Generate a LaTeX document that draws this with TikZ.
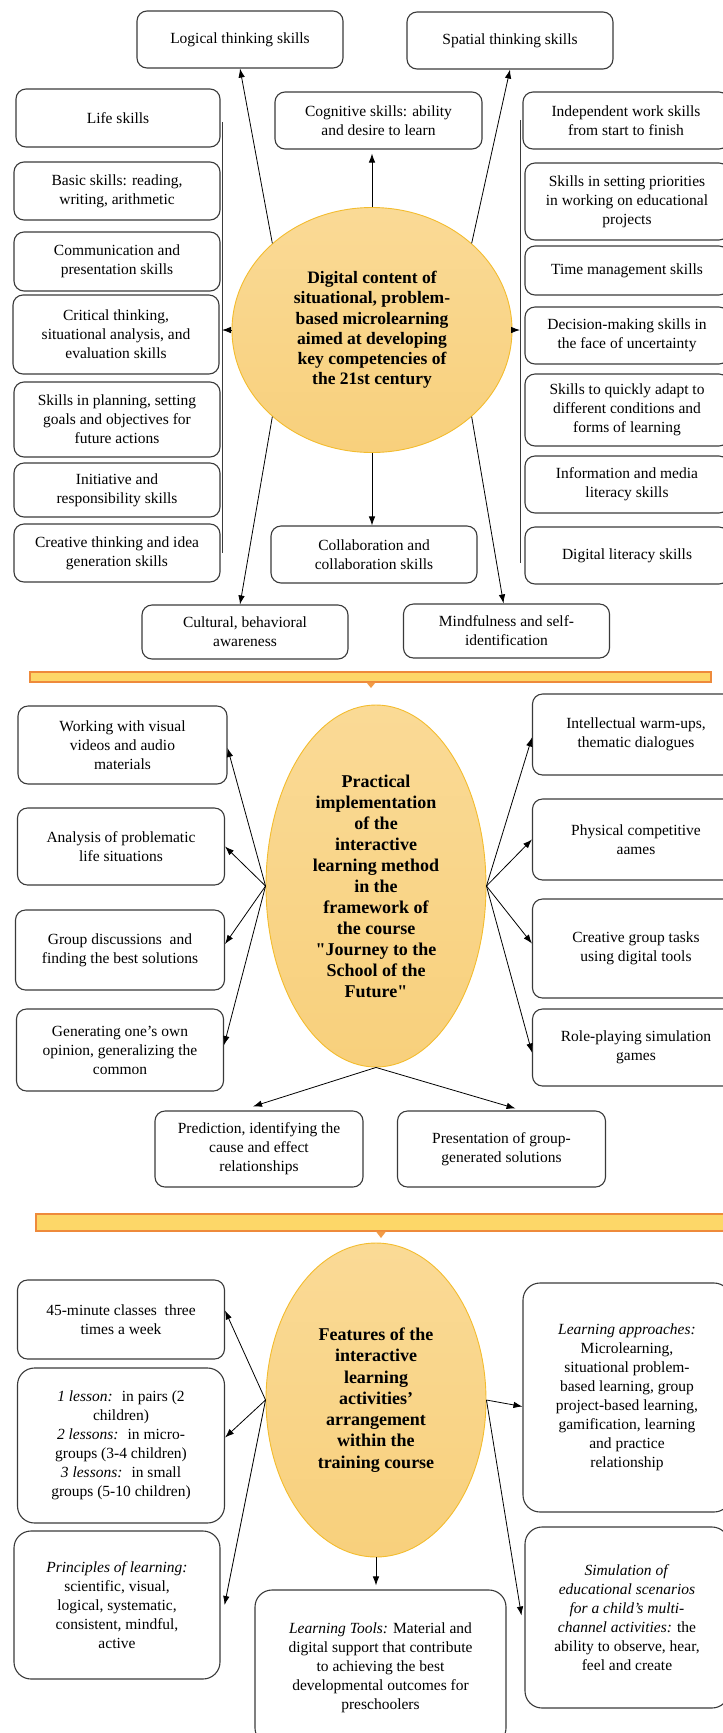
\documentclass[tikz,border=0pt]{standalone}
\usepackage{fontspec}
\setmainfont{Liberation Serif}
\usetikzlibrary{arrows.meta,shapes.geometric}
\definecolor{boxline}{HTML}{3A3A3A}
\definecolor{hubtop}{HTML}{FADA96}
\definecolor{hubbot}{HTML}{F8D07C}
\definecolor{hubline}{HTML}{F3BC2E}
\definecolor{barfill}{HTML}{FDD768}
\definecolor{barline}{HTML}{EE8A3B}
\definecolor{tipfill}{HTML}{F29B45}

\begin{document}
\begin{tikzpicture}[x=1pt, y=-1pt,
	box/.style={draw=boxline, line width=1.1pt, rounded corners=10pt, align=center, inner sep=2pt,
		font=\fontsize{15.5}{19}\selectfont},
	bigbox/.style={box, rounded corners=17pt},
	hub/.style={ellipse, draw=hubline, line width=0.9pt, top color=hubtop, bottom color=hubbot,
		inner sep=0pt, align=center, font=\fontsize{17.5}{20.2}\selectfont\bfseries},
	arr/.style={-{Latex[length=9pt,width=6.5pt]}, line width=0.8pt},
	bar/.style={fill=barfill, draw=barline, line width=1.4pt},
	tip/.style={fill=tipfill}]
	\useasboundingbox (0,0) rectangle (723,1733);

	\node[hub, minimum width=280pt, minimum height=245pt] (dig) at (372,330) {Digital content of\\situational, problem-\\based microlearning\\aimed at developing\\key competencies of\\the 21st century};
	\node[box, minimum width=206pt, minimum height=57pt] (logic) at (240,39.5) {Logical thinking skills};
	\node[box, minimum width=206pt, minimum height=57pt] (spatial) at (510,40.5) {Spatial thinking skills};
	\node[box, minimum width=207pt, minimum height=57pt] (cogn) at (378.5,120.5) {Cognitive skills: ability\\and desire to learn};
	\node[box, minimum width=204pt, minimum height=58pt] (life) at (118,118) {Life skills};
	\node[box, minimum width=206pt, minimum height=58pt] (basic) at (117,191) {Basic skills: reading,\\writing, arithmetic};
	\node[box, minimum width=206pt, minimum height=59pt] (comm) at (117,261.5) {Communication and\\presentation skills};
	\node[box, minimum width=206pt, minimum height=79pt] (crit) at (116,334.5) {Critical thinking,\\situational analysis, and\\evaluation skills};
	\node[box, minimum width=206pt, minimum height=75pt] (plan) at (117,419.5) {Skills in planning, setting\\goals and objectives for\\future actions};
	\node[box, minimum width=206pt, minimum height=54pt] (init) at (117,490) {Initiative and\\responsibility skills};
	\node[box, minimum width=206pt, minimum height=58pt] (creat) at (117,553) {Creative thinking and idea\\generation skills};
	\node[box, minimum width=206pt, minimum height=57pt] (indep) at (626,120.5) {Independent work skills\\from start to finish};
	\node[box, minimum width=204pt, minimum height=77pt] (prior) at (627,201.5) {Skills in setting priorities\\in working on educational\\projects};
	\node[box, minimum width=204pt, minimum height=49pt] (timem) at (627,270.5) {Time management skills};
	\node[box, minimum width=204pt, minimum height=57pt] (decis) at (627,335.5) {Decision-making skills in\\the face of uncertainty};
	\node[box, minimum width=204pt, minimum height=72pt] (adapt) at (627,410) {Skills to quickly adapt to\\different conditions and\\forms of learning};
	\node[box, minimum width=204pt, minimum height=57pt] (info) at (627,484.5) {Information and media\\literacy skills};
	\node[box, minimum width=204pt, minimum height=57pt] (digit) at (627,555.5) {Digital literacy skills};
	\node[box, minimum width=206pt, minimum height=57pt] (collab) at (374,554.5) {Collaboration and\\collaboration skills};
	\node[box, minimum width=206pt, minimum height=54pt] (cult) at (245,632) {Cultural, behavioral\\awareness};
	\node[box, minimum width=206pt, minimum height=54pt] (mind) at (506.5,631) {Mindfulness and self-\\identification};

	\coordinate (lbar) at (222,330);
	\coordinate (rbar) at (520,330);
	\draw[line width=0.9pt, boxline] (222,122) -- (222,553);
	\draw[line width=0.9pt, boxline] (520,120) -- (520,563);
	\draw[arr] (dig.west) -- (lbar);
	\draw[arr] (dig.east) -- (rbar);
	\draw[arr] (dig.139) -- (logic.south);
	\draw[arr] (dig.41) -- (spatial.south);
	\draw[arr] (dig.north) -- ([yshift=-4pt]dig.north |- cogn.south);
	\draw[arr] (dig.south) -- (dig.south |- collab.north);
	\draw[arr] (dig.221) -- ([xshift=-5pt]cult.north);
	\draw[arr] (dig.319) -- ([xshift=-3pt]mind.north);

	\draw[bar] (30,672) rectangle (711,682);
	\fill[tip] (366.5,682.5) -- (375.5,682.5) -- (371,688) -- cycle;

	\node[hub, minimum width=220pt, minimum height=362pt, font=\fontsize{18}{21}\selectfont\bfseries] (prac) at (376,886) {Practical\\implementation\\of the\\interactive\\learning method\\in the\\framework of\\the course\\\textquotedbl Journey to the\\School of the\\Future\textquotedbl};
	\node[box, minimum width=209pt, minimum height=78pt] (work) at (122.5,745) {Working with visual\\videos and audio\\materials};
	\node[box, minimum width=207pt, minimum height=77pt] (anal) at (121,846.5) {Analysis of problematic\\life situations};
	\node[box, minimum width=209pt, minimum height=80pt] (grp) at (120,950) {Group discussions~ and\\finding the best solutions};
	\node[box, minimum width=207pt, minimum height=82pt] (gen) at (120,1050) {Generating one's own\\opinion, generalizing the\\common};
	\node[box, minimum width=207pt, minimum height=81pt] (intel) at (636,734.5) {Intellectual warm-ups,\\thematic dialogues};
	\node[box, minimum width=207pt, minimum height=81pt] (phys) at (636,839.5) {Physical competitive\\aames};
	\node[box, minimum width=207pt, minimum height=99pt] (cgrp) at (636,948.5) {Creative group tasks\\using digital tools};
	\node[box, minimum width=207pt, minimum height=77pt] (role) at (636,1047.5) {Role-playing simulation\\games};
	\node[box, minimum width=208pt, minimum height=76pt] (pred) at (259,1149) {Prediction, identifying the\\cause and effect\\relationships};
	\node[box, minimum width=208pt, minimum height=76pt] (pres) at (501.5,1149) {Presentation of group-\\generated solutions};

	\draw[arr] (prac.west) -- ([yshift=-3pt]work.east);
	\draw[arr] (prac.west) -- (anal.east);
	\draw[arr] (prac.west) -- ([yshift=6pt]grp.east);
	\draw[arr] (prac.west) -- ([yshift=5pt]gen.east);
	\draw[arr] (prac.east) -- ([yshift=-3pt]intel.west);
	\draw[arr] (prac.east) -- (phys.west);
	\draw[arr] (prac.east) -- ([yshift=5pt]cgrp.west);
	\draw[arr] (prac.east) -- ([yshift=-5pt]role.west);
	\draw[arr] (prac.south) -- ([xshift=-6pt,yshift=4pt]pred.north);
	\draw[arr] (prac.south) -- ([xshift=14pt,yshift=2pt]pres.north);

	\draw[bar] (36,1214) rectangle (730,1231);
	\fill[tip] (376,1231.5) -- (386,1231.5) -- (381,1238) -- cycle;

	\node[hub, minimum width=220pt, minimum height=314pt, font=\fontsize{18}{21.3}\selectfont\bfseries] (feat) at (376,1400) {Features of the\\interactive\\learning\\activities'\\arrangement\\within the\\training course};
	\node[box, minimum width=207pt, minimum height=79pt] (mins) at (121,1319.5) {45-minute classes~ three\\times a week};
	\node[bigbox, minimum width=207pt, minimum height=155pt] (less) at (121,1445.5) {\textit{1 lesson:}~ in pairs (2\\children)\\\textit{2 lessons:}~ in micro-\\groups (3-4 children)\\\textit{3 lessons:}~ in small\\groups (5-10 children)};
	\node[bigbox, minimum width=206pt, minimum height=148pt] (princ) at (117,1605) {\textit{Principles of learning:}\\scientific, visual,\\logical, systematic,\\consistent, mindful,\\active};
	\node[bigbox, minimum width=208pt, minimum height=229pt] (appr) at (627,1397.5) {\textit{Learning approaches:}\\Microlearning,\\situational problem-\\based learning, group\\project-based learning,\\gamification, learning\\and practice\\relationship};
	\node[bigbox, minimum width=204pt, minimum height=181pt] (simul) at (627,1617.5) {\textit{Simulation of}\\\textit{educational scenarios}\\\textit{for a child's multi-}\\\textit{channel activities:} the\\ability to observe, hear,\\feel and create};
	\node[bigbox, minimum width=251pt, minimum height=155pt] (tools) at (380.5,1667.5) {\textit{Learning Tools:} Material and\\digital support that contribute\\to achieving the best\\developmental outcomes for\\preschoolers};

	\draw[arr] (feat.west) -- ([yshift=9pt]mins.east);
	\draw[arr] (feat.west) -- ([yshift=8pt]less.east);
	\draw[arr] (feat.west) -- ([xshift=4pt]princ.east);
	\draw[arr] (feat.east) -- ([yshift=-9pt]appr.west);
	\draw[arr] (feat.east) -- ([xshift=-3pt,yshift=2pt]simul.west);
	\draw[arr] (feat.south) -- ([yshift=4pt]feat.south |- tools.north);
\end{tikzpicture}
\end{document}
